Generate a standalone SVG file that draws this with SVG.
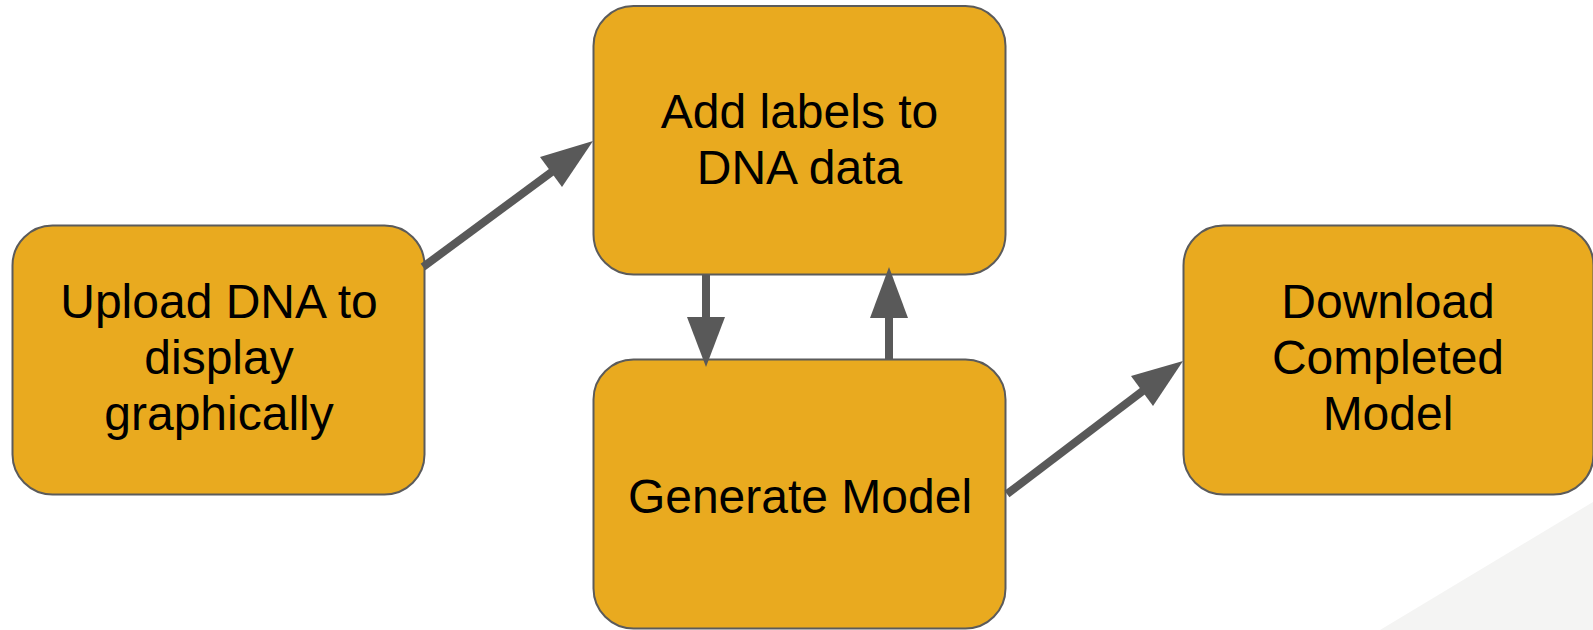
<svg xmlns="http://www.w3.org/2000/svg" width="1593" height="630" viewBox="0 0 1593 630">
<style>
.node{fill:#e9aa1f;stroke:#5b5b5b;stroke-width:2}
.lbl{font-family:"Liberation Sans",Arial,sans-serif;font-size:48px;fill:#000;text-anchor:middle}
.ln{stroke:#595959;stroke-width:8;fill:none}
.hd{fill:#595959}
</style>
<rect width="1593" height="630" fill="#fff"/>
<polygon points="1380,630 1593,502 1593,630" fill="#f4f4f3"/>
<g id="node-upload">
<rect class="node" x="12.5" y="225.5" width="412" height="269" rx="40"/>
<text class="lbl" x="219" y="317.5">Upload DNA to</text>
<text class="lbl" x="219" y="373.5">display</text>
<text class="lbl" x="219" y="429.5">graphically</text>
</g>
<g id="node-labels">
<rect class="node" x="593.5" y="6" width="412" height="268.5" rx="40"/>
<text class="lbl" x="799.5" y="127.5">Add labels to</text>
<text class="lbl" x="799.5" y="184">DNA data</text>
</g>
<g id="node-generate">
<rect class="node" x="593.5" y="359.5" width="412" height="269" rx="40"/>
<text class="lbl" x="800" y="512.5">Generate Model</text>
</g>
<g id="node-download">
<rect class="node" x="1183.5" y="225.5" width="410" height="269" rx="40"/>
<text class="lbl" x="1388" y="317.5">Download</text>
<text class="lbl" x="1388" y="373.5">Completed</text>
<text class="lbl" x="1388" y="429.5">Model</text>
</g>
<g id="connectors">
<line class="ln" x1="423" y1="267" x2="553" y2="171"/>
<polygon class="hd" points="593,141 540,157 562,187"/>
<line class="ln" x1="706" y1="275" x2="706" y2="318"/>
<polygon class="hd" points="706,367 687,317 725,317"/>
<line class="ln" x1="889" y1="359" x2="889" y2="317"/>
<polygon class="hd" points="889,267 870,318 908,318"/>
<line class="ln" x1="1007" y1="494" x2="1144" y2="390"/>
<polygon class="hd" points="1183,361 1131,376 1153,406"/>
</g>
</svg>
